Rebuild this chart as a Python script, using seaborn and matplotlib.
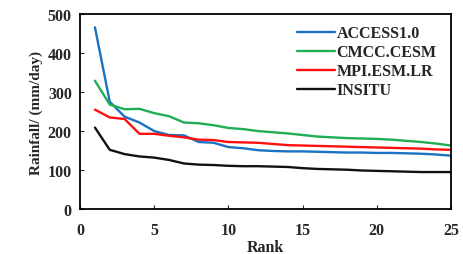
import pandas as pd
import matplotlib.pyplot as plt
import seaborn as sns

rank = list(range(1, 26))
access = [466, 275, 237, 222, 200, 190, 189, 172, 170, 159, 156, 151, 149, 148, 148, 147, 146, 145, 145, 144, 144, 143, 142, 140, 137]
cmcc = [329, 268, 256, 257, 246, 238, 222, 220, 215, 208, 205, 200, 197, 194, 190, 186, 184, 182, 181, 180, 178, 175, 172, 168, 163]
mpi = [255, 235, 231, 193, 193, 188, 184, 178, 177, 172, 171, 170, 167, 164, 163, 162, 161, 160, 159, 158, 157, 156, 155, 153, 152]
insitu = [209, 152, 141, 135, 132, 126, 117, 114, 113, 111, 110, 110, 109, 108, 105, 103, 102, 101, 99, 98, 97, 96, 95, 95, 95]

names = ["ACCESS1.0", "CMCC.CESM", "MPI.ESM.LR", "INSITU"]
colors = ["#1a72c4", "#1fae55", "#ff1010", "#111111"]

df = pd.DataFrame({"Rank": rank * 4,
                   "Rainfall": access + cmcc + mpi + insitu,
                   "Model": sum([[n] * 25 for n in names], [])})

sns.set_style("white")
plt.rcParams['font.family'] = ['Liberation Serif', 'DejaVu Serif']
plt.rcParams['font.weight'] = 'bold'

fig = plt.figure(figsize=(4.63, 2.55), dpi=100)
ax = fig.add_axes([0.173, 0.176, 0.801, 0.765])
sns.lineplot(data=df, x="Rank", y="Rainfall", hue="Model", palette=colors, linewidth=1.7, ax=ax)

ax.set_xlim(0, 25)
ax.set_ylim(0, 500)
ax.set_xticks([0, 5, 10, 15, 20, 25])
ax.set_yticks([0, 100, 200, 300, 400, 500])
ax.tick_params(direction='in', length=3, labelsize=11.5, width=0.8, left=True, bottom=True)
ax.tick_params(axis='x', pad=9)
ax.tick_params(axis='y', pad=6)
for lab in ax.get_xticklabels() + ax.get_yticklabels():
    lab.set_fontweight('bold')
ax.set_xlabel("Rank", fontsize=11.5, fontweight='bold', labelpad=1)
ax.set_ylabel("Rainfall/ (mm/day)", fontsize=11, fontweight='bold', labelpad=3)
for s in ax.spines.values():
    s.set_color('black')
    s.set_linewidth(1.3)

leg = ax.legend(frameon=False, loc='upper left', handlelength=2.4, handletextpad=0.1,
                labelspacing=0.18, prop={'weight': 'bold', 'size': 11.5}, bbox_to_anchor=(0.545, 1.015))

fig.savefig("out.png", dpi=100)
